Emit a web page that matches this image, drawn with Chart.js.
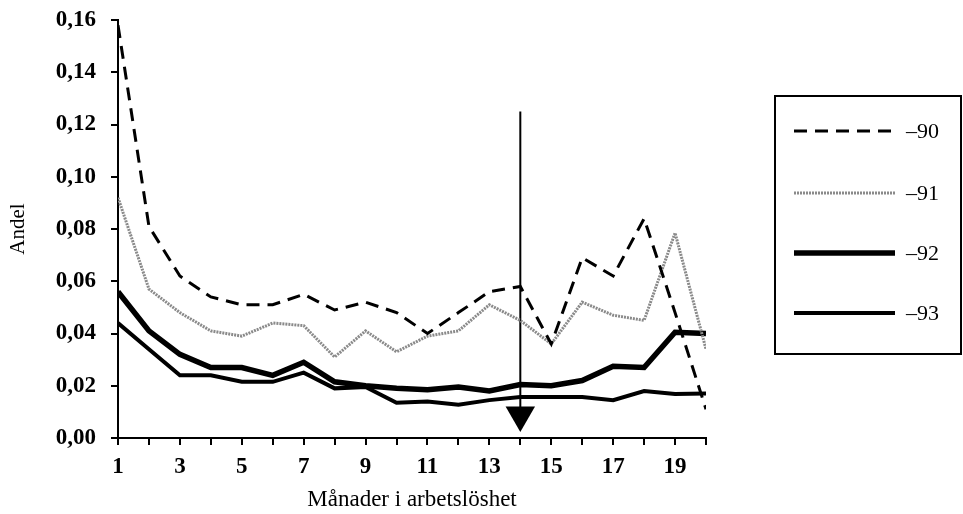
<!DOCTYPE html>
<html lang="sv">
  <head>
    <meta charset="UTF-8" />
    <title>Andel efter månader i arbetslöshet</title>
    <script src="https://cdn.jsdelivr.net/npm/chart.js@4/dist/chart.umd.min.js"></script>
    <style>
      html, body { margin: 0; padding: 0; background: #fff; }
      #wrap { width: 963px; height: 514px; }
    </style>
  </head>
  <body>
    <div id="wrap"><canvas id="chart" width="963" height="514"></canvas></div>
    <script>
      // months 1..20
      const months = [1, 2, 3, 4, 5, 6, 7, 8, 9, 10, 11, 12, 13, 14, 15, 16, 17, 18, 19, 20];
      const seriesNames = ["–90", "–91", "–92", "–93"];
      const y90 = [0.158, 0.081, 0.062, 0.054, 0.051, 0.051, 0.055, 0.049, 0.052, 0.048, 0.040, 0.048, 0.056, 0.058, 0.036, 0.069, 0.062, 0.084, 0.048, 0.011];
      const y91 = [0.092, 0.057, 0.048, 0.041, 0.039, 0.044, 0.043, 0.031, 0.041, 0.033, 0.039, 0.041, 0.051, 0.045, 0.036, 0.052, 0.047, 0.045, 0.0785, 0.034];
      const y92 = [0.056, 0.041, 0.032, 0.027, 0.027, 0.024, 0.029, 0.0215, 0.020, 0.019, 0.0185, 0.0195, 0.018, 0.0205, 0.020, 0.022, 0.0275, 0.027, 0.0405, 0.040];
      const y93 = [0.044, 0.034, 0.024, 0.024, 0.0215, 0.0215, 0.025, 0.019, 0.0195, 0.0135, 0.014, 0.0127, 0.0145, 0.0157, 0.0157, 0.0157, 0.0145, 0.018, 0.0168, 0.017];
      // marker arrow at month 14
      const arrowX = [14, 14];
      const arrowY = [0.125, 0.0088];

      const yTicks = [0, 0.02, 0.04, 0.06, 0.08, 0.1, 0.12, 0.14, 0.16];
      const xLabels = [1, 3, 5, 7, 9, 11, 13, 15, 17, 19];

      const serif = "'Liberation Serif', 'DejaVu Serif', serif";
      const pts = (ys) => months.map((m, i) => ({ x: m, y: ys[i] }));

      const styles = [
        { color: "#000", width: 3, dash: [13, 8] },
        { color: "#8a8a8a", width: 3, dash: [2, 1] },
        { color: "#000", width: 5.5, dash: [] },
        { color: "#000", width: 4, dash: [] },
      ];
      const seriesData = [y90, y91, y92, y93];

      const datasets = seriesData.map((ys, i) => ({
        label: seriesNames[i],
        data: pts(ys),
        borderColor: styles[i].color,
        borderWidth: styles[i].width,
        borderDash: styles[i].dash,
        pointRadius: 0,
        tension: 0,
        fill: false,
      }));

      datasets.push({
        label: "arrow",
        data: arrowX.map((x, i) => ({ x: x, y: arrowY[i] })),
        borderColor: "#000",
        backgroundColor: "#000",
        borderWidth: 2,
        pointRadius: [0, 17],
        pointStyle: "triangle",
        rotation: 180,
        pointBorderWidth: 0,
      });

      // legend box drawn on the right side
      const boxLegend = {
        id: "boxLegend",
        afterDraw(chart) {
          const ctx = chart.ctx;
          ctx.save();
          ctx.strokeStyle = "#000";
          ctx.lineWidth = 2;
          ctx.strokeRect(775, 96, 186, 258);
          const rows = [131, 193, 253, 313];
          ctx.font = "22px " + serif;
          ctx.textBaseline = "middle";
          ctx.fillStyle = "#000";
          seriesNames.forEach((name, i) => {
            const s = styles[i];
            ctx.beginPath();
            ctx.strokeStyle = s.color;
            ctx.lineWidth = s.width;
            ctx.setLineDash(s.dash);
            ctx.moveTo(794, rows[i]);
            ctx.lineTo(895, rows[i]);
            ctx.stroke();
            ctx.setLineDash([]);
            ctx.fillText(name, 906, rows[i] + 1);
          });
          ctx.restore();
        },
      };

      new Chart(document.getElementById("chart"), {
        type: "line",
        data: { datasets },
        options: {
          responsive: false,
          animation: false,
          layout: { padding: { left: 0, right: 257, top: 20, bottom: 0 } },
          plugins: { legend: { display: false }, tooltip: { enabled: false } },
          scales: {
            x: {
              type: "linear",
              min: 1,
              max: 20,
              afterFit: (scale) => { scale.height = 76; scale.paddingLeft = 0; scale.paddingRight = 0; },
              afterBuildTicks: (scale) => { scale.ticks = months.map((m) => ({ value: m })); },
              ticks: {
                autoSkip: false,
                maxRotation: 0,
                padding: 8,
                color: "#000",
                font: { family: serif, size: 23, weight: "bold" },
                callback: (v) => (xLabels.includes(v) ? String(v) : ""),
              },
              grid: { drawOnChartArea: false, drawTicks: true, tickLength: 7, color: "#000", lineWidth: 2 },
              border: { display: true, color: "#000", width: 2 },
              title: {
                display: true,
                text: "Månader i arbetslöshet",
                color: "#000",
                font: { family: serif, size: 23 },
                padding: { top: 2, bottom: 0 },
              },
            },
            y: {
              min: 0,
              max: 0.16,
              afterFit: (scale) => { scale.width = 118; scale.paddingTop = 0; scale.paddingBottom = 0; },
              afterBuildTicks: (scale) => { scale.ticks = yTicks.map((v) => ({ value: v })); },
              ticks: {
                padding: 15,
                color: "#000",
                font: { family: serif, size: 23, weight: "bold" },
                callback: (v) => v.toFixed(2).replace(".", ","),
              },
              grid: { drawOnChartArea: false, drawTicks: true, tickLength: 7, color: "#000", lineWidth: 2 },
              border: { display: true, color: "#000", width: 2 },
              title: {
                display: true,
                text: "Andel",
                color: "#000",
                font: { family: serif, size: 21 },
                padding: { top: 6, bottom: 0 },
              },
            },
          },
        },
        plugins: [boxLegend],
      });
    </script>
  </body>
</html>
